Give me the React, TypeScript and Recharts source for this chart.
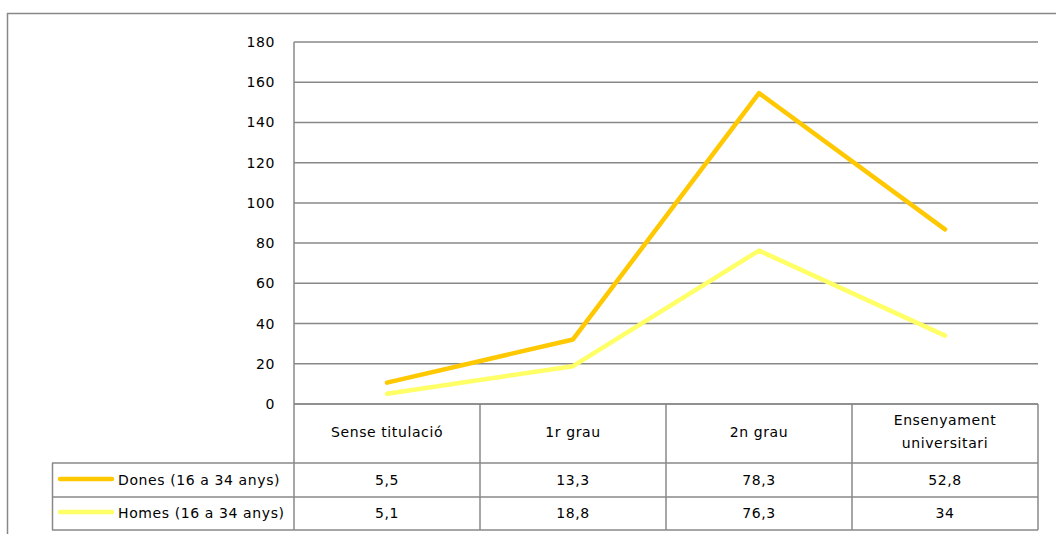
import React from "react";
import { ComposedChart, Area, XAxis, YAxis, CartesianGrid } from "recharts";

const categories = ["Sense titulació", "1r grau", "2n grau", "Ensenyament universitari"];
const dones = [5.5, 13.3, 78.3, 52.8];
const homes = [5.1, 18.8, 76.3, 34];
const doneLabels = ["5,5", "13,3", "78,3", "52,8"];
const homeLabels = ["5,1", "18,8", "76,3", "34"];
const yTicks = [0, 20, 40, 60, 80, 100, 120, 140, 160, 180];
const seriesNames = ["Dones (16 a 34 anys)", "Homes (16 a 34 anys)"];

const data = categories.map((c, i) => ({ cat: c, dones: dones[i], homes: homes[i] }));

const W = 1056;
const H = 534;
const M = { top: 42, right: 18, bottom: 130, left: 294 };
const plotBottom = H - M.bottom;
const bandW = (W - M.left - M.right) / categories.length;
const row1 = 463;
const row2 = 497;
const row3 = 530;
const FONT = "DejaVu Sans";
const FS = 14;
const LS = 0.6;
const GRID = "#888888";
const C_DONES = "#FFC800";
const C_HOMES = "#FFFF66";

const txt = { fontFamily: FONT, fontSize: FS, letterSpacing: LS, fill: "#000" } as const;

const TableTick = (props: any) => {
  const { x, payload, index } = props;
  const left = x - bandW / 2;
  const right = x + bandW / 2;
  const label: string = payload.value;
  const words = label === "Ensenyament universitari" ? ["Ensenyament", "universitari"] : [label];
  return (
    <g>
      <line x1={right} y1={plotBottom} x2={right} y2={row3} stroke={GRID} strokeWidth={1.5} />
      {index === 0 && (
        <line x1={left} y1={plotBottom} x2={left} y2={row3} stroke={GRID} strokeWidth={1.5} />
      )}
      {words.length === 1 ? (
        <text x={x} y={432} textAnchor="middle" dominantBaseline="central" {...txt}>
          {words[0]}
        </text>
      ) : (
        words.map((w, k) => (
          <text key={k} x={x} y={420 + k * 23} textAnchor="middle" dominantBaseline="central" {...txt}>
            {w}
          </text>
        ))
      )}
      <text x={x} y={480} textAnchor="middle" dominantBaseline="central" {...txt}>
        {doneLabels[index]}
      </text>
      <text x={x} y={513} textAnchor="middle" dominantBaseline="central" {...txt}>
        {homeLabels[index]}
      </text>
    </g>
  );
};

const YTick = (props: any) => {
  const { y, payload } = props;
  return (
    <text x={275} y={y} textAnchor="end" dominantBaseline="central" {...txt}>
      {payload.value}
    </text>
  );
};

export default function App() {
  return (
    <div style={{ position: "absolute", left: 0, top: 0, width: W, height: H, background: "#fff" }}>
      <svg width={W} height={H} style={{ position: "absolute", left: 0, top: 0 }}>
        <rect x={7.5} y={13.5} width={1100} height={600} fill="none" stroke={GRID} strokeWidth={1.5} />
        <line x1={52} y1={row1} x2={W - M.right} y2={row1} stroke={GRID} strokeWidth={1.5} />
        <line x1={52} y1={row2} x2={W - M.right} y2={row2} stroke={GRID} strokeWidth={1.5} />
        <line x1={52} y1={row3} x2={W - M.right} y2={row3} stroke={GRID} strokeWidth={1.5} />
        <line x1={52.5} y1={row1} x2={52.5} y2={row3} stroke={GRID} strokeWidth={1.5} />
        <line x1={60} y1={479} x2={112} y2={479} stroke={C_DONES} strokeWidth={4.5} strokeLinecap="round" />
        <line x1={60} y1={512} x2={112} y2={512} stroke={C_HOMES} strokeWidth={4.5} strokeLinecap="round" />
        <text x={118} y={480} dominantBaseline="central" {...txt}>{seriesNames[0]}</text>
        <text x={118} y={513} dominantBaseline="central" {...txt}>{seriesNames[1]}</text>
      </svg>
      <div style={{ position: "absolute", left: 0, top: 0 }}>
        <ComposedChart width={W} height={H} data={data} margin={{ top: M.top, right: M.right, bottom: 0, left: 0 }}>
          <CartesianGrid vertical={false} stroke={GRID} strokeWidth={1.5} />
          <XAxis dataKey="cat" scale="band" height={M.bottom} axisLine={{ stroke: GRID, strokeWidth: 1.5 }} tickLine={false} tick={<TableTick />} interval={0} />
          <YAxis width={M.left} domain={[0, 180]} ticks={yTicks} axisLine={{ stroke: GRID, strokeWidth: 1.5 }} tickLine={false} tick={<YTick />} />
          <Area type="linear" dataKey="homes" stackId="s" stroke={C_HOMES} strokeWidth={4.5} fill="none" fillOpacity={0} dot={false} activeDot={false} isAnimationActive={false} strokeLinejoin="round" strokeLinecap="round" />
          <Area type="linear" dataKey="dones" stackId="s" stroke={C_DONES} strokeWidth={4.5} fill="none" fillOpacity={0} dot={false} activeDot={false} isAnimationActive={false} strokeLinejoin="round" strokeLinecap="round" />
        </ComposedChart>
      </div>
    </div>
  );
}
